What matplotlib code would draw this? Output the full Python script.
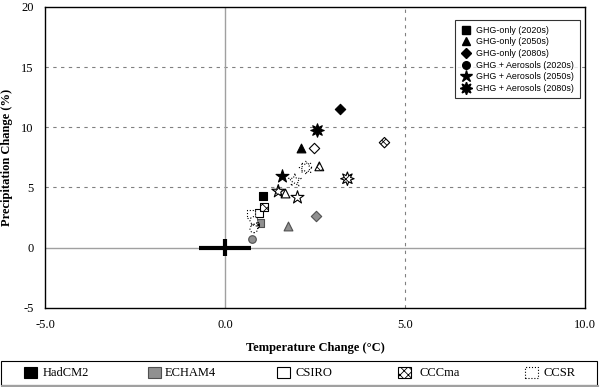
import matplotlib
matplotlib.use("Agg")
import matplotlib.pyplot as plt
from matplotlib.lines import Line2D
from matplotlib.patches import Rectangle

# ---- data ----
models = ["HadCM2", "ECHAM4", "CSIRO", "CCCma", "CCSR"]
scenarios = ["GHG-only (2020s)", "GHG-only (2050s)", "GHG-only (2080s)",
             "GHG + Aerosols (2020s)", "GHG + Aerosols (2050s)", "GHG + Aerosols (2080s)"]

pt_model = ["HadCM2", "HadCM2", "HadCM2", "HadCM2", "HadCM2", "HadCM2",
            "ECHAM4", "ECHAM4", "ECHAM4", "ECHAM4",
            "CSIRO", "CSIRO", "CSIRO", "CSIRO",
            "CCCma", "CCCma", "CCCma", "CCCma", "CCCma", "CCCma",
            "CCSR", "CCSR", "CCSR", "CCSR", "CCSR"]
pt_scen = [0, 1, 2, 3, 4, 5,
           0, 1, 2, 3,
           0, 1, 2, 4,
           0, 1, 2, 3, 4, 5,
           0, 3, 3, 4, 5]
pt_temp = [1.06, 2.11, 3.19, 0.81, 1.57, 2.56,
           0.98, 1.76, 2.53, 0.75,
           0.94, 1.66, 2.47, 1.99,
           1.08, 2.62, 4.43, 0.85, 1.48, 3.40,
           0.72, 0.80, 0.80, 1.94, 2.25]
pt_prec = [4.28, 8.28, 11.5, 2.67, 5.94, 9.75,
           2.00, 1.83, 2.64, 0.72,
           2.89, 4.50, 8.25, 4.20,
           3.36, 6.75, 8.72, 1.85, 4.67, 5.72,
           2.80, 2.25, 1.55, 5.58, 6.64]

nat_x, nat_y = 0.0, 0.0
nat_xerr, nat_yerr = 0.72, 0.67

x_ticks = [-5.0, 0.0, 5.0, 10.0]
y_ticks = [-5, 0, 5, 10, 15, 20]

# ---- styles ----
scen_marker = ["s", "^", "D", "o", "*", (8, 1, 0)]
scen_size = [34, 40, 28, 30, 95, 95]
model_style = {
    "HadCM2": dict(fc="black", ec="black", hatch=None, ls="-"),
    "ECHAM4": dict(fc="#909090", ec="#505050", hatch=None, ls="-"),
    "CSIRO": dict(fc="white", ec="black", hatch=None, ls="-"),
    "CCCma": dict(fc="white", ec="black", hatch="xxxx", ls="-"),
    "CCSR": dict(fc="white", ec="black", hatch=None, ls=":"),
}

serif = ["Liberation Serif", "DejaVu Serif"]
sans = ["Liberation Sans", "DejaVu Sans"]
plt.rcParams["hatch.linewidth"] = 0.6

W, H = 600, 387
fig = plt.figure(figsize=(W / 100, H / 100), dpi=100)
ax = fig.add_axes([0.075, 0.205, 0.9, 0.777])
ax.set_xlim(-5, 10)
ax.set_ylim(-5, 20)

for yv in [5, 10, 15]:
    ax.axhline(yv, color="#808080", lw=0.8, ls=(0, (3, 4)), zorder=0)
ax.axvline(5, color="#808080", lw=0.8, ls=(0, (3, 4)), zorder=0)
ax.axhline(0, color="#a0a0a0", lw=1.0, zorder=0)
ax.axvline(0, color="#a0a0a0", lw=1.0, zorder=0)

ax.errorbar([nat_x], [nat_y], xerr=[nat_xerr], yerr=[nat_yerr], fmt="none",
            ecolor="black", elinewidth=3, capsize=0, zorder=2)

for m, s, xv, yv in zip(pt_model, pt_scen, pt_temp, pt_prec):
    st = model_style[m]
    ax.scatter([xv], [yv], marker=scen_marker[s], s=scen_size[s],
               facecolors=st["fc"], edgecolors=st["ec"], hatch=st["hatch"],
               linestyles=st["ls"], linewidths=0.8, zorder=3)

ax.set_xticks(x_ticks)
ax.set_xticklabels([f"{v:.1f}" for v in x_ticks], fontfamily=serif, fontsize=9)
ax.set_yticks(y_ticks)
ax.set_yticklabels([str(v) for v in y_ticks], fontfamily=serif, fontsize=9)
ax.tick_params(length=0, pad=8)
for sp in ax.spines.values():
    sp.set_linewidth(1.0)
ax.set_xlabel("Temperature Change (°C)", fontfamily=serif, fontsize=9,
              fontweight="bold", labelpad=8)
ax.set_ylabel("Precipitation Change (%)", fontfamily=serif, fontsize=9,
              fontweight="bold", labelpad=6)

# scenario legend (top right)
sh = [Line2D([], [], ls="none", marker=scen_marker[i], color="black",
             markersize=[5.5, 6, 5, 5.5, 9, 9][i]) for i in range(6)]
leg1 = ax.legend(sh, scenarios, loc="upper right", bbox_to_anchor=(0.99, 0.955),
                 prop={"family": sans, "size": 6.4}, frameon=True, fancybox=False,
                 edgecolor="black", handlelength=1.2, handletextpad=0.6,
                 labelspacing=0.3, borderpad=0.6, borderaxespad=0.0)
leg1.get_frame().set_linewidth(0.8)

# model legend (bottom), drawn in figure pixel coordinates
def fx(px):
    return px / W

def fy(py):
    return 1 - py / H

fig.patches.append(Rectangle((fx(1), fy(385)), fx(597) - fx(1), fy(361) - fy(385),
                             transform=fig.transFigure, fill=False,
                             edgecolor="black", lw=0.8))
fig.lines.append(Line2D([fx(2), fx(598)], [fy(385.5), fy(385.5)],
                        transform=fig.transFigure, color="#a0a0a0", lw=1.5))
sq_x = [24, 148, 277, 398, 525]
tx_x = [43, 165, 296, 419, 543]
for m, sx, tx in zip(models, sq_x, tx_x):
    st = model_style[m]
    fig.patches.append(Rectangle((fx(sx), fy(378)), fx(13), 11 / H,
                                 transform=fig.transFigure,
                                 facecolor=st["fc"], edgecolor=st["ec"],
                                 hatch=st["hatch"], linestyle=st["ls"], lw=0.8))
    fig.text(fx(tx), fy(372.5), m, fontfamily=serif, fontsize=9,
             ha="left", va="center")

fig.savefig("out.png", dpi=100)
